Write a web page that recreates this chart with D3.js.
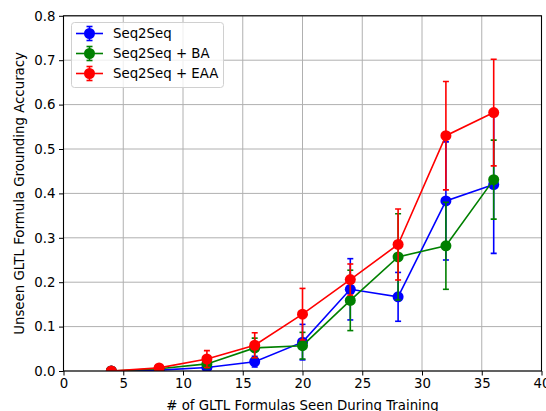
<!DOCTYPE html>
<html>
<head>
<meta charset="utf-8">
<script src="https://cdn.jsdelivr.net/npm/d3@7"></script>
<style>
  body { margin: 0; background: #fff; }
  svg { display: block; font-family: "DejaVu Sans", sans-serif; }
</style>
</head>
<body>
<svg id="chart" width="546" height="411"></svg>
<script>
const xValues = [4, 8, 12, 16, 20, 24, 28, 32, 36];
const seriesNames = ["Seq2Seq", "Seq2Seq + BA", "Seq2Seq + EAA"];
const seriesColors = ["#0000ff", "#008000", "#ff0000"];
const seq2seq = [0.0, 0.002, 0.008, 0.021, 0.065, 0.184, 0.167, 0.383, 0.420];
const seq2seqErr = [0.0, 0.002, 0.005, 0.012, 0.040, 0.069, 0.055, 0.133, 0.155];
const seq2seqBA = [0.0, 0.005, 0.016, 0.052, 0.057, 0.159, 0.257, 0.282, 0.431];
const seq2seqBAErr = [0.0, 0.003, 0.008, 0.022, 0.030, 0.068, 0.097, 0.098, 0.089];
const seq2seqEAA = [0.0, 0.007, 0.027, 0.058, 0.128, 0.206, 0.285, 0.530, 0.582];
const seq2seqEAAErr = [0.0, 0.004, 0.019, 0.028, 0.058, 0.035, 0.080, 0.122, 0.120];
const xTicks = [0, 5, 10, 15, 20, 25, 30, 35, 40];
const yTicks = [0.0, 0.1, 0.2, 0.3, 0.4, 0.5, 0.6, 0.7, 0.8];
const xLabel = "# of GLTL Formulas Seen During Training";
const yLabel = "Unseen GLTL Formula Grounding Accuracy";

const series = [
  { name: seriesNames[0], color: seriesColors[0], values: seq2seq, err: seq2seqErr },
  { name: seriesNames[1], color: seriesColors[1], values: seq2seqBA, err: seq2seqBAErr },
  { name: seriesNames[2], color: seriesColors[2], values: seq2seqEAA, err: seq2seqEAAErr }
];

(function () {
const FS = 13.33;
const svg = d3.select("#chart");
const pL = 63.5, pR = 541.5, pT = 15.8, pB = 371;
const x = d3.scaleLinear().domain([0, 40]).range([pL, pR]);
const y = d3.scaleLinear().domain([0, 0.8]).range([pB, pT]);

const clipId = "plotclip";
svg.append("defs").append("clipPath").attr("id", clipId)
  .append("rect").attr("x", pL).attr("y", pT - 8).attr("width", pR - pL + 8).attr("height", pB - pT + 8);

// grid
const grid = svg.append("g");
grid.selectAll(".gx").data(xTicks).enter().append("line")
  .attr("x1", d => x(d)).attr("x2", d => x(d)).attr("y1", pT).attr("y2", pB)
  .attr("stroke", "#b0b0b0").attr("stroke-width", 1);
grid.selectAll(".gy").data(yTicks).enter().append("line")
  .attr("x1", pL).attr("x2", pR).attr("y1", d => y(d)).attr("y2", d => y(d))
  .attr("stroke", "#b0b0b0").attr("stroke-width", 1);

// series
const plot = svg.append("g").attr("clip-path", `url(#${clipId})`);
const line = d3.line().x((d, i) => x(xValues[i])).y(d => y(d));
series.forEach(s => {
  const g = plot.append("g");
  g.append("path").attr("d", line(s.values)).attr("fill", "none")
    .attr("stroke", s.color).attr("stroke-width", 1.6);
  xValues.forEach((xv, i) => {
    const lo = y(s.values[i] - s.err[i]), hi = y(s.values[i] + s.err[i]);
    g.append("line").attr("x1", x(xv)).attr("x2", x(xv)).attr("y1", lo).attr("y2", hi)
      .attr("stroke", s.color).attr("stroke-width", 1.6);
    [lo, hi].forEach(yy => g.append("line")
      .attr("x1", x(xv) - 3).attr("x2", x(xv) + 3).attr("y1", yy).attr("y2", yy)
      .attr("stroke", s.color).attr("stroke-width", 1.6));
  });
  g.selectAll("circle").data(s.values).enter().append("circle")
    .attr("cx", (d, i) => x(xValues[i])).attr("cy", d => y(d)).attr("r", 5.5)
    .attr("fill", s.color);
});

// axes
const xAxis = d3.axisBottom(x).tickValues(xTicks).tickFormat(d3.format("d")).tickSizeOuter(0).tickSize(4.5).tickPadding(3.5);
const yAxis = d3.axisLeft(y).tickValues(yTicks).tickFormat(d3.format(".1f")).tickSizeOuter(0).tickSize(4.5).tickPadding(3.5);
const gx = svg.append("g").attr("transform", `translate(0,${pB})`).call(xAxis);
const gy = svg.append("g").attr("transform", `translate(${pL},0)`).call(yAxis);
[gx, gy].forEach(g => {
  g.select(".domain").remove();
  g.selectAll("text").attr("font-size", FS).attr("fill", "#000").attr("font-family", "DejaVu Sans");
  g.selectAll("line").attr("stroke", "#000").attr("stroke-width", 1);
});
// spines
svg.append("rect").attr("x", pL).attr("y", pT).attr("width", pR - pL).attr("height", pB - pT)
  .attr("fill", "none").attr("stroke", "#000").attr("stroke-width", 1.1);

svg.append("text").attr("x", (pL + pR) / 2).attr("y", 409.5)
  .attr("text-anchor", "middle").attr("font-size", FS).text(xLabel);
svg.append("text").attr("transform", `translate(24,${(pT + pB) / 2}) rotate(-90)`)
  .attr("text-anchor", "middle").attr("font-size", FS).text(yLabel);

// legend
const lg = svg.append("g");
lg.append("rect").attr("x", 71.5).attr("y", 22.5).attr("width", 152).attr("height", 65).attr("rx", 3)
  .attr("fill", "#fff").attr("fill-opacity", 0.8).attr("stroke", "#d0d0d0").attr("stroke-width", 1);
series.forEach((s, i) => {
  const cy = 33.5 + i * 20;
  lg.append("line").attr("x1", 76).attr("x2", 103).attr("y1", cy).attr("y2", cy).attr("stroke", s.color).attr("stroke-width", 1.6);
  lg.append("line").attr("x1", 89.5).attr("x2", 89.5).attr("y1", cy - 7).attr("y2", cy + 7).attr("stroke", s.color).attr("stroke-width", 1.6);
  [cy - 7, cy + 7].forEach(yy => lg.append("line").attr("x1", 86.5).attr("x2", 92.5).attr("y1", yy).attr("y2", yy).attr("stroke", s.color).attr("stroke-width", 1.6));
  lg.append("circle").attr("cx", 89.5).attr("cy", cy).attr("r", 5.5).attr("fill", s.color);
  lg.append("text").attr("x", 113).attr("y", cy + 4.7).attr("font-size", FS).text(s.name);
});
})();
</script>
</body>
</html>
